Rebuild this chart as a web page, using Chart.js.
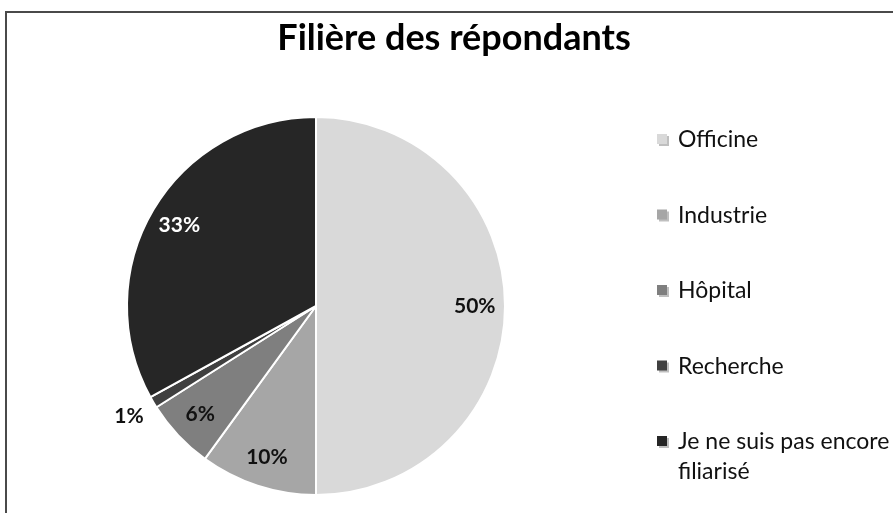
<!DOCTYPE html>
<html>
<head>
<meta charset="utf-8">
<script src="https://cdn.jsdelivr.net/npm/chart.js@4"></script>
<style>
  html, body { margin: 0; padding: 0; background: #fff; }
  #wrap { width: 893px; height: 513px; }
</style>
</head>
<body>
<div id="wrap"><canvas id="myChart" width="893" height="513"></canvas></div>
<script>
let chartTitle = 'Filière des répondants';
let categories = ['Officine', 'Industrie', 'Hôpital', 'Recherche', 'Je ne suis pas encore filiarisé'];
let legendLines = [['Officine'], ['Industrie'], ['Hôpital'], ['Recherche'], ['Je ne suis pas encore', 'filiarisé']];
let percentValues = [50, 10, 6, 1, 33];
let sliceColors = ['#d9d9d9', '#a6a6a6', '#7f7f7f', '#404040', '#262626'];
let labelColors = ['#111111', '#111111', '#111111', '#111111', '#ffffff'];

const FONT = 'Lato, "Open Sans", sans-serif';

// frame, title, slice labels and legend drawn on the canvas
const decorPlugin = {
    id: 'decor',
    beforeDraw(chart) {
        const ctx = chart.ctx;
        ctx.save();
        ctx.fillStyle = '#fff';
        ctx.fillRect(0, 0, chart.width, chart.height);
        ctx.strokeStyle = '#4a4a4a';
        ctx.lineWidth = 2;
        ctx.strokeRect(6, 12, chart.width + 20, chart.height + 20);
        ctx.fillStyle = '#000';
        ctx.font = 'bold 36px ' + FONT;
        ctx.textAlign = 'center';
        ctx.textBaseline = 'middle';
        ctx.fillText(chartTitle, 454, 38);
        ctx.restore();
    },
    afterDraw(chart) {
        const ctx = chart.ctx;
        const meta = chart.getDatasetMeta(0);
        ctx.save();
        ctx.font = 'bold 21px ' + FONT;
        ctx.textAlign = 'center';
        ctx.textBaseline = 'middle';
        meta.data.forEach((arc, i) => {
            const p = arc.getProps(['x', 'y', 'startAngle', 'endAngle', 'outerRadius'], true);
            const mid = (p.startAngle + p.endAngle) / 2;
            const small = percentValues[i] < 3;
            const r = p.outerRadius * (small ? 1.15 : 0.84);
            ctx.fillStyle = small ? '#111111' : labelColors[i];
            ctx.fillText(percentValues[i] + '%', p.x + Math.cos(mid) * r, p.y + Math.sin(mid) * r);
        });

        // legend
        let y0 = 140, step = 75.5;
        ctx.textAlign = 'left';
        ctx.font = '23px ' + FONT;
        legendLines.forEach((lines, i) => {
            const y = y0 + i * step;
            ctx.fillStyle = '#bfbfbf';
            ctx.fillRect(659, y - 4, 10, 10);
            ctx.fillStyle = sliceColors[i];
            ctx.fillRect(657, y - 6, 10, 10);
            ctx.fillStyle = '#111111';
            lines.forEach((t, j) => ctx.fillText(t, 678, y + j * 30));
        });
        ctx.restore();
    }
};

let chartElement = document.getElementById('myChart').getContext('2d');

let myChart = new Chart(chartElement, {
    type: 'pie',
    data: {
        labels: categories,
        datasets: [{
            data: percentValues,
            backgroundColor: sliceColors,
            borderColor: '#ffffff',
            borderWidth: 2
        }]
    },
    options: {
        responsive: false,
        animation: false,
        layout: { padding: { left: 126, right: 387, top: 115, bottom: 16 } },
        plugins: {
            legend: { display: false },
            title: { display: false },
            tooltip: { enabled: false }
        }
    },
    plugins: [decorPlugin]
});
</script>
</body>
</html>
